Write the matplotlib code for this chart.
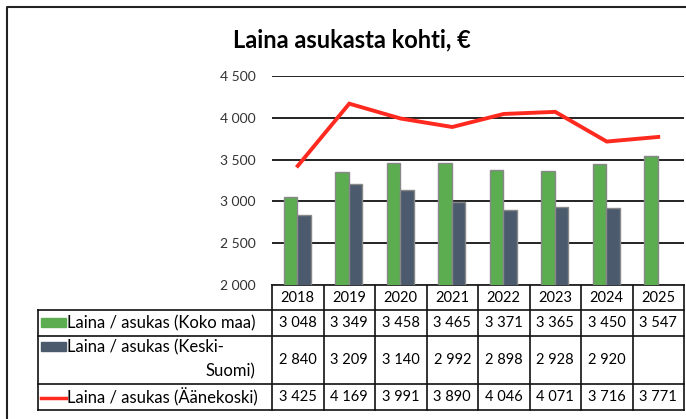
import matplotlib.pyplot as plt
import numpy as np

years = ["2018", "2019", "2020", "2021", "2022", "2023", "2024", "2025"]
koko_maa = [3048, 3349, 3458, 3465, 3371, 3365, 3450, 3547]
keski_suomi = [2840, 3209, 3140, 2992, 2898, 2928, 2920, None]
aanekoski = [3425, 4169, 3991, 3890, 4046, 4071, 3716, 3771]
yticks = [2000, 2500, 3000, 3500, 4000, 4500]

green = "#5BAD4F"
slate = "#4B5A6D"
red = "#FF2A1F"
font = "Lato"

W, H = 686, 419
fig = plt.figure(figsize=(W / 100, H / 100), dpi=100)

# full-figure pixel axes for border + table
bg = fig.add_axes([0, 0, 1, 1])
bg.set_xlim(0, W)
bg.set_ylim(H, 0)
bg.axis("off")

# plot area
x0, x1 = 272, 684
ytop, ybot = 76, 285
ax = fig.add_axes([x0 / W, 1 - ybot / H, (x1 - x0) / W, (ybot - ytop) / H])
ax.set_xlim(-0.5, len(years) - 0.5)
ax.set_ylim(2000, 4500)
for t in yticks:
    ax.axhline(t, color="#222222", lw=1.4, zorder=0)
x = np.arange(len(years))
bw = 0.26
ax.bar(x - 0.14, koko_maa, bw, color=green, edgecolor="#888888", lw=1, zorder=2)
ks_x = [i for i, v in enumerate(keski_suomi) if v is not None]
ks_v = [v for v in keski_suomi if v is not None]
ax.bar(np.array(ks_x) + 0.12, ks_v, bw, color=slate, edgecolor="#888888", lw=1, zorder=2)
ax.plot(x, aanekoski, color=red, lw=2.8, zorder=3, solid_joinstyle="miter")
ax.set_xticks([])
ax.set_yticks(yticks)
ax.set_yticklabels([f"{t // 1000} {t % 1000:03d}" for t in yticks], fontsize=10, color="#333333", family=font)
ax.tick_params(axis="y", length=0, pad=12)
for s in ax.spines.values():
    s.set_visible(False)

# title
bg.text(352, 40, "Laina asukasta kohti, €", ha="center", va="center",
        fontsize=17, fontweight="bold", family=font)

# outer border
bg.plot([7, 7, W + 2], [H + 2, 7, 7], color="#222222", lw=1.5)

# table
colw = (x1 - x0) / len(years)
hdr_top, r1, r2, r3, rb = 285, 310, 336, 384, 410
lc = 38
lw_t = 1.2
tc = "#111111"
bg.plot([x0, x1], [hdr_top, hdr_top], color=tc, lw=lw_t)
for i in range(len(years) + 1):
    bg.plot([x0 + i * colw] * 2, [hdr_top, rb], color=tc, lw=lw_t)
for yy in [r1, r2, r3, rb]:
    bg.plot([lc, x1], [yy, yy], color=tc, lw=lw_t)
bg.plot([lc, lc], [r1, rb], color=tc, lw=lw_t)

fs = 10.5
for i, yr in enumerate(years):
    cx = x0 + (i + 0.5) * colw
    bg.text(cx, (hdr_top + r1) / 2, yr, ha="center", va="center", fontsize=fs, family=font)
    bg.text(cx, (r1 + r2) / 2, f"{koko_maa[i] // 1000} {koko_maa[i] % 1000:03d}",
            ha="center", va="center", fontsize=fs, family=font)
    if keski_suomi[i] is not None:
        v = keski_suomi[i]
        bg.text(cx, (r2 + r3) / 2, f"{v // 1000} {v % 1000:03d}",
                ha="center", va="center", fontsize=fs, family=font)
    bg.text(cx, (r3 + rb) / 2, f"{aanekoski[i] // 1000} {aanekoski[i] % 1000:03d}",
            ha="center", va="center", fontsize=fs, family=font)

# row headers with legend keys
lfs = 12
bg.add_patch(plt.Rectangle((41, 318), 25, 9, color=green))
bg.text(67, (r1 + r2) / 2, "Laina / asukas (Koko maa)", ha="left", va="center", fontsize=lfs, family=font)
bg.add_patch(plt.Rectangle((41, 342), 25, 9, color=slate))
bg.text(67, 347, "Laina / asukas (Keski-", ha="left", va="center", fontsize=lfs, family=font)
bg.text(230, 371, "Suomi)", ha="center", va="center", fontsize=lfs, family=font)
bg.plot([41, 66], [398, 398], color=red, lw=2.5)
bg.text(67, (r3 + rb) / 2, "Laina / asukas (Äänekoski)", ha="left", va="center", fontsize=lfs, family=font)

fig.savefig("out.png", dpi=100)
